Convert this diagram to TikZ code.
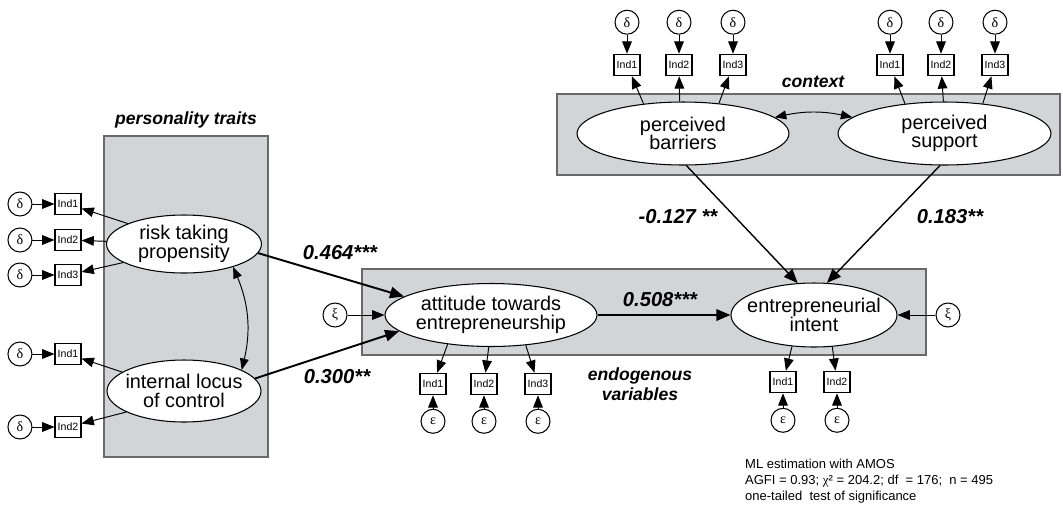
\documentclass[tikz,border=0pt]{standalone}
\usepackage{fontspec}
\setmainfont{Liberation Sans}
\newfontfamily\grk{Liberation Serif}
\usepackage{xcolor}
\usepackage{tikz}
\usetikzlibrary{positioning, calc, arrows.meta, shapes.geometric}
\definecolor{PanelGray}{RGB}{211,212,214}
\definecolor{PanelEdge}{RGB}{105,105,108}
\tikzset{
    panel/.style={
        draw=PanelEdge, line width=0.8pt, fill=PanelGray, inner sep=0pt
    },
    latent/.style={
        ellipse, draw, line width=0.6pt, fill=white, inner xsep=-6pt, inner ysep=0pt,
        align=center, font=\fontsize{11.3}{10.6}\selectfont
    },
    indic/.style={
        rectangle, draw, line width=0.6pt, fill=white, minimum width=0.52cm,
        minimum height=0.43cm, inner sep=0pt, font=\fontsize{6}{7}\selectfont
    },
    errnode/.style={
        circle, draw, line width=0.6pt, fill=white, minimum size=0.48cm,
        inner sep=0pt, font=\grk\fontsize{8}{8}\selectfont
    }
}

\begin{document}
\begin{tikzpicture}[
        x=0.02cm, y=-0.02cm,
        % arrow styles
        measptr/.style={
            -{Triangle[length=7pt,width=5.5pt]}, line width=0.55pt
        },
        pathptr/.style={
            -{Triangle[length=8pt,width=6.5pt]}, line width=1.1pt
        },
        corrptr/.style={
            {Triangle[length=6.5pt,width=5pt]}-{Triangle[length=6.5pt,width=5pt]},
            line width=0.55pt
        },
        % label styles
        coefflabel/.style={
            font=\fontsize{11.5}{13}\selectfont\bfseries\itshape
        },
        grouplabel/.style={
            font=\fontsize{10}{11.5}\selectfont\bfseries\itshape, align=center
        }
    ]
    \useasboundingbox (0,0) rectangle (1063,505);

    % --- 1. PANELS ---
    \node[panel, minimum width=3.28cm, minimum height=6.42cm] (traitsPanel) at (186,296.5) {};
    \node[panel, minimum width=11.28cm, minimum height=1.72cm] (endoPanel) at (644,312) {};
    \node[panel, minimum width=10.06cm, minimum height=1.62cm] (contextPanel) at (808.5,134.5) {};

    \node[grouplabel] (traitsLabel) at (186,120) {personality traits};
    \node[grouplabel] (contextLabel) at (813,82) {context};
    \node[grouplabel] (endoLabel) at (640,384) {endogenous\\variables};

    % --- 2. LATENT VARIABLES ---
    \node[latent, minimum width=3.1cm, minimum height=1.16cm] (risk) at (184,244) {risk taking\\propensity};
    \node[latent, minimum width=3.08cm, minimum height=1.24cm] (locus) at (184,391) {internal locus\\of control};
    \node[latent, minimum width=4.24cm, minimum height=1.26cm] (attitude) at (491,315) {attitude towards\\entrepreneurship};
    \node[latent, minimum width=3.32cm, minimum height=1.28cm] (intent) at (814,315) {entrepreneurial\\intent};
    \node[latent, minimum width=4.24cm, minimum height=1.26cm] (barriers) at (683,133.5) {perceived\\barriers};
    \node[latent, minimum width=4.26cm, minimum height=1.26cm] (support) at (944.5,133.5) {perceived\\support};

    % --- 3. INDICATORS AND ERRORS ---
    % personality traits
    \node[indic] (rI1) at (68,204) {Ind1};
    \node[indic] (rI2) at (68,240) {Ind2};
    \node[indic] (rI3) at (68,275) {Ind3};
    \node[indic] (lI1) at (68,354) {Ind1};
    \node[indic] (lI2) at (68,427) {Ind2};
    \node[errnode, left=0.44cm of rI1] (rD1) {δ};
    \node[errnode, left=0.44cm of rI2] (rD2) {δ};
    \node[errnode, left=0.44cm of rI3] (rD3) {δ};
    \node[errnode, left=0.44cm of lI1] (lD1) {δ};
    \node[errnode, left=0.44cm of lI2] (lD2) {δ};

    % context
    \node[indic] (bI1) at (627,65) {Ind1};
    \node[indic] (bI2) at (679,65) {Ind2};
    \node[indic] (bI3) at (733,65) {Ind3};
    \node[indic] (sI1) at (890,65) {Ind1};
    \node[indic] (sI2) at (941,65) {Ind2};
    \node[indic] (sI3) at (995,65) {Ind3};
    \node[errnode, above=0.38cm of bI1] (bD1) {δ};
    \node[errnode, above=0.38cm of bI2] (bD2) {δ};
    \node[errnode, above=0.38cm of bI3] (bD3) {δ};
    \node[errnode, above=0.38cm of sI1] (sD1) {δ};
    \node[errnode, above=0.38cm of sI2] (sD2) {δ};
    \node[errnode, above=0.38cm of sI3] (sD3) {δ};

    % endogenous variables
    \node[indic] (aI1) at (433,384) {Ind1};
    \node[indic] (aI2) at (484,384) {Ind2};
    \node[indic] (aI3) at (538,384) {Ind3};
    \node[indic] (iI1) at (783,382) {Ind1};
    \node[indic] (iI2) at (837,382) {Ind2};
    \node[errnode, below=0.27cm of aI1] (aE1) {ε};
    \node[errnode, below=0.27cm of aI2] (aE2) {ε};
    \node[errnode, below=0.27cm of aI3] (aE3) {ε};
    \node[errnode, below=0.29cm of iI1] (iE1) {ε};
    \node[errnode, below=0.29cm of iI2] (iE2) {ε};
    \node[errnode] (xiA) at (335,315) {ξ};
    \node[errnode] (xiI) at (948,315) {ξ};

    % --- 4. MEASUREMENT ARROWS ---
    \draw[measptr] (risk.160) -- (rI1);
    \draw[measptr] (risk) -- (rI2);
    \draw[measptr] (risk.197) -- (rI3);
    \draw[measptr] (locus.163) -- (lI1);
    \draw[measptr] (locus.200) -- (lI2);
    \draw[measptr] (barriers.143) -- (bI1);
    \draw[measptr] (barriers.96) -- (bI2);
    \draw[measptr] (barriers.40) -- (bI3);
    \draw[measptr] (support.143) -- (sI1);
    \draw[measptr] (support.92) -- (sI2);
    \draw[measptr] (support.38) -- (sI3);
    \draw[measptr] (attitude.214) -- (aI1);
    \draw[measptr] (attitude.266) -- (aI2);
    \draw[measptr] (attitude.319) -- (aI3);
    \draw[measptr] (intent.235) -- (iI1);
    \draw[measptr] (intent.300) -- (iI2);

    \draw[measptr] (rD1) -- (rI1);
    \draw[measptr] (rD2) -- (rI2);
    \draw[measptr] (rD3) -- (rI3);
    \draw[measptr] (lD1) -- (lI1);
    \draw[measptr] (lD2) -- (lI2);
    \draw[measptr] (bD1) -- (bI1);
    \draw[measptr] (bD2) -- (bI2);
    \draw[measptr] (bD3) -- (bI3);
    \draw[measptr] (sD1) -- (sI1);
    \draw[measptr] (sD2) -- (sI2);
    \draw[measptr] (sD3) -- (sI3);
    \draw[measptr] (aE1) -- (aI1);
    \draw[measptr] (aE2) -- (aI2);
    \draw[measptr] (aE3) -- (aI3);
    \draw[measptr] (iE1) -- (iI1);
    \draw[measptr] (iE2) -- (iI2);
    \draw[measptr] (xiA) -- (attitude);
    \draw[measptr] (xiI) -- (intent);

    % --- 5. STRUCTURAL PATHS ---
    \draw[pathptr] (risk.353) -- (attitude.168);
    \draw[pathptr] (locus.10) -- (attitude.190);
    \draw[pathptr] (attitude) -- (intent);
    \draw[pathptr, line width=0.8pt] (barriers.276) -- (intent.117);
    \draw[pathptr, line width=0.8pt] (support.262) -- (intent.68);

    \draw[corrptr] (risk.335) to[bend left=18] (locus.20);
    \draw[corrptr] (barriers.10) to[bend left=12] (support.170);

    \node[coefflabel] (c464) at (340,253) {0.464***};
    \node[coefflabel] (c300) at (337,377) {0.300**};
    \node[coefflabel] (c508) at (660,300) {0.508***};
    \node[coefflabel] (c127) at (678,217) {-0.127 **};
    \node[coefflabel] (c183) at (950,217) {0.183**};

    % --- 6. FIT NOTE ---
    \node[anchor=west, align=left, font=\fontsize{7.4}{9.1}\selectfont] (fitNote) at (739,481)
        {ML estimation with AMOS\\
         AGFI = 0.93; {\grk χ}² = 204.2; df\ \ = 176;\ \ n = 495\\
         one-tailed\ \ test of significance};

\end{tikzpicture}
\end{document}
